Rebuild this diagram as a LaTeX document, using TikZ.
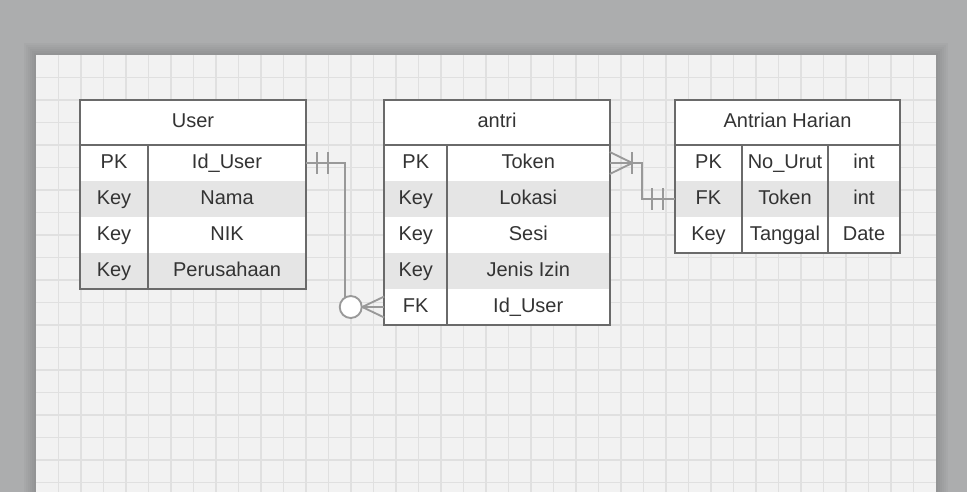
\documentclass[tikz,border=0pt]{standalone}
\usepackage{fontspec}
\setmainfont{Liberation Sans}
\usetikzlibrary{calc}

\definecolor{outer}{RGB}{172,173,174}
\definecolor{paper}{RGB}{242,242,242}
\definecolor{gridc}{RGB}{224,224,224}
\definecolor{tbl}{RGB}{106,106,106}
\definecolor{rowgray}{RGB}{229,229,229}
\definecolor{relc}{RGB}{153,153,153}
\definecolor{txt}{RGB}{51,51,51}

\begin{document}
\begin{tikzpicture}[x=0.75pt,y=-0.75pt,
	cell/.style={fill=white,inner sep=0pt,text=txt,text height=7.7pt,text depth=0pt,
		minimum height=27pt,font=\fontsize{15}{18}\selectfont},
	hdr/.style={cell,minimum height=33.75pt},
	shade/.style={fill=rowgray},
	colw/.style={minimum width=0.75pt*#1},
	frame/.style={draw=tbl,line width=1.5pt},
	rel/.style={draw=relc,line width=1.4pt},
	gridline/.style={draw=gridc,line width=1.1pt}]
	\useasboundingbox (0,0) rectangle (967,492);
	\fill[outer] (0,0) rectangle (967,492);
	% shadow round the sheet
	\foreach \s in {2,4,...,12}
		\fill[black,opacity=0.022] (36-\s,55-\s) rectangle (936+\s,520);
	\fill[paper] (36,55) rectangle (936,520);
	% grid
	\foreach \gx in {58.5,81,...,914}
		\draw[gridline] (\gx,55) -- (\gx,492);
	\foreach \gy in {77.5,100,...,491}
		\draw[gridline] (36,\gy) -- (936,\gy);

	% table User
	\node[hdr,colw=226] (u-h) at (193,122.5) {User};
	\node[cell,colw=68] (u-1a) at (114,163) {PK};
	\node[cell,colw=158] (u-1b) at (227,163) {Id\_User};
	\node[cell,shade,colw=68] (u-2a) at (114,199) {Key};
	\node[cell,shade,colw=158] (u-2b) at (227,199) {Nama};
	\node[cell,colw=68] (u-3a) at (114,235) {Key};
	\node[cell,colw=158] (u-3b) at (227,235) {NIK};
	\node[cell,shade,colw=68] (u-4a) at (114,271) {Key};
	\node[cell,shade,colw=158] (u-4b) at (227,271) {Perusahaan};
	\draw[frame] (u-h.north west) rectangle (u-4b.south east);
	\draw[frame] (u-h.south west) -- (u-h.south east);
	\draw[frame] (u-1a.north east) -- (u-4a.south east);

	% table antri
	\node[hdr,colw=225] (a-h) at (497,122.5) {antri};
	\node[cell,colw=62.5] (a-1a) at (415.75,163) {PK};
	\node[cell,colw=162.5] (a-1b) at (528.25,163) {Token};
	\node[cell,shade,colw=62.5] (a-2a) at (415.75,199) {Key};
	\node[cell,shade,colw=162.5] (a-2b) at (528.25,199) {Lokasi};
	\node[cell,colw=62.5] (a-3a) at (415.75,235) {Key};
	\node[cell,colw=162.5] (a-3b) at (528.25,235) {Sesi};
	\node[cell,shade,colw=62.5] (a-4a) at (415.75,271) {Key};
	\node[cell,shade,colw=162.5] (a-4b) at (528.25,271) {Jenis Izin};
	\node[cell,colw=62.5] (a-5a) at (415.75,307) {FK};
	\node[cell,colw=162.5] (a-5b) at (528.25,307) {Id\_User};
	\draw[frame] (a-h.north west) rectangle (a-5b.south east);
	\draw[frame] (a-h.south west) -- (a-h.south east);
	\draw[frame] (a-1a.north east) -- (a-5a.south east);

	% table Antrian Harian
	\node[hdr,colw=225] (h-h) at (787.5,122.5) {Antrian Harian};
	\node[cell,colw=67] (h-1a) at (708.5,163) {PK};
	\node[cell,colw=86] (h-1b) at (785,163) {No\_Urut};
	\node[cell,colw=72] (h-1c) at (864,163) {int};
	\node[cell,shade,colw=67] (h-2a) at (708.5,199) {FK};
	\node[cell,shade,colw=86] (h-2b) at (785,199) {Token};
	\node[cell,shade,colw=72] (h-2c) at (864,199) {int};
	\node[cell,colw=67] (h-3a) at (708.5,235) {Key};
	\node[cell,colw=86] (h-3b) at (785,235) {Tanggal};
	\node[cell,colw=72] (h-3c) at (864,235) {Date};
	\draw[frame] (h-h.north west) rectangle (h-3c.south east);
	\draw[frame] (h-h.south west) -- (h-h.south east);
	\draw[frame] (h-1a.north east) -- (h-3a.south east);
	\draw[frame] (h-1b.north east) -- (h-3b.south east);

	% User -- antri (one to zero or many)
	\draw[rel] (u-1b.east) -- ++(39,0) |- (a-5a.west);
	\draw[rel] ($(u-1b.east)+(11,-11)$) -- ++(0,22);
	\draw[rel] ($(u-1b.east)+(22,-11)$) -- ++(0,22);
	\draw[rel] ($(a-5a.west)+(0,-10.5)$) -- ($(a-5a.west)+(-22,0)$) -- ($(a-5a.west)+(0,10.5)$);
	\draw[rel,fill=white] ($(a-5a.west)+(-33.5,0)$) circle[radius=8.25pt];

	% antri -- Antrian Harian (one or many to one)
	\draw[rel] (a-1b.east) -- ++(32.5,0) |- (h-2a.west);
	\draw[rel] ($(a-1b.east)+(0,-11)$) -- ($(a-1b.east)+(22.5,0)$) -- ($(a-1b.east)+(0,11)$);
	\draw[rel] ($(a-1b.east)+(22.5,-11)$) -- ++(0,22);
	\draw[rel] ($(h-2a.west)+(-23,-11)$) -- ++(0,22);
	\draw[rel] ($(h-2a.west)+(-12,-11)$) -- ++(0,22);
\end{tikzpicture}
\end{document}
